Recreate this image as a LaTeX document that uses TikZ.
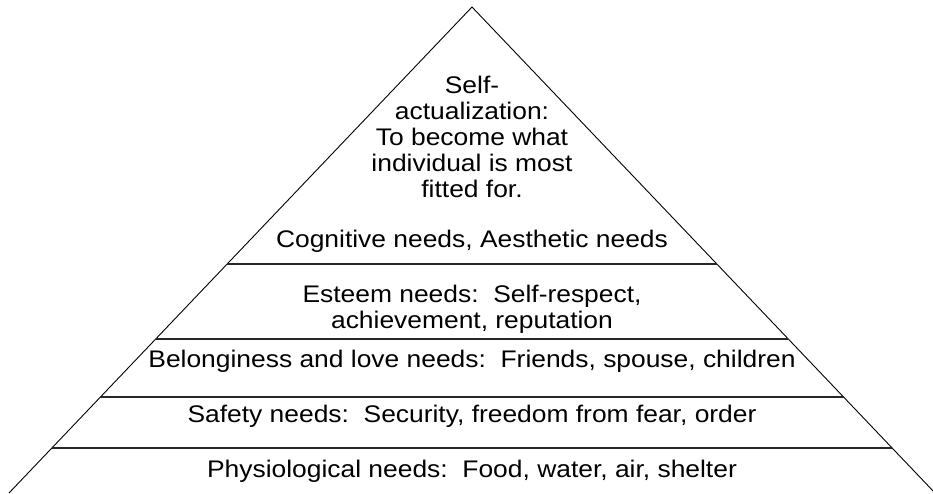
\documentclass[tikz,border=0pt]{standalone}
\usepackage{fontspec}
\setmainfont[FakeStretch=1.1]{Liberation Sans}
\usepackage{tikz}

\begin{document}
\begin{tikzpicture}[x=1pt,y=-1pt]
\tikzset{
    tier text/.style={
        anchor=base, inner sep=0pt, align=center,
        font=\fontsize{24}{26}\selectfont
    },
    pyramid edge/.style={line width=0.9pt, draw=black},
    tier line/.style={line width=1.2pt, draw=black!85}
}
\useasboundingbox (0,0) rectangle (933,493);

% Varful si colturile piramidei
\coordinate (apex) at (472,7);
\coordinate (bl)   at (9,493);
\coordinate (br)   at (935,493);

\draw[pyramid edge] (bl) -- (apex) -- (br);

% Puncte pe laturi pentru liniile orizontale
\path (apex) -- (bl) coordinate[pos=0.5288] (l1) coordinate[pos=0.6831] (l2)
                     coordinate[pos=0.8025] (l3) coordinate[pos=0.9074] (l4);
\path (apex) -- (br) coordinate[pos=0.5288] (r1) coordinate[pos=0.6831] (r2)
                     coordinate[pos=0.8025] (r3) coordinate[pos=0.9074] (r4);

\draw[tier line] (l1) -- (r1);
\draw[tier line] (l2) -- (r2);
\draw[tier line] (l3) -- (r3);
\draw[tier line] (l4) -- (r4);

% Textele nivelurilor (ancora base = ultima linie)
\node[tier text] (selfact)   at (472,197) {Self-\\actualization:\\To become what\\individual is most\\fitted for.};
\node[tier text] (cognitive) at (472,247) {Cognitive needs, Aesthetic needs};
\node[tier text] (esteem)    at (472,328) {Esteem needs:\ \ Self-respect,\\achievement, reputation};
\node[tier text] (belong)    at (472,367) {Belonginess and love needs:\ \ Friends, spouse, children};
\node[tier text] (safety)    at (472,422) {Safety needs:\ \ Security, freedom from fear, order};
\node[tier text] (physio)    at (472,477) {Physiological needs:\ \ Food, water, air, shelter};
\end{tikzpicture}
\end{document}
